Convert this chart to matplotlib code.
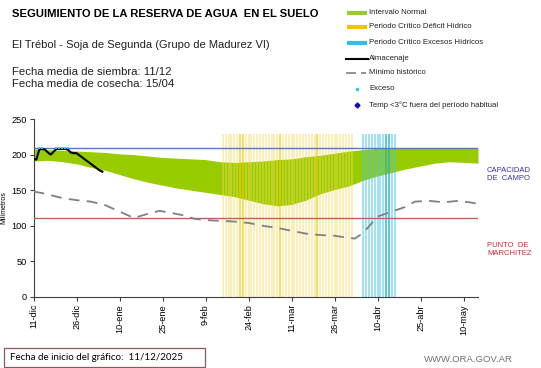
import matplotlib
matplotlib.use('Agg')
import matplotlib.pyplot as plt
from matplotlib.lines import Line2D
from matplotlib.patches import Rectangle

plt.rcParams['font.family'] = ['Liberation Sans', 'DejaVu Sans']

# days counted from 11-dic
tick_days = [0, 15, 30, 45, 60, 75, 90, 105, 120, 135, 150]
tick_labels = ['11-dic', '26-dic', '10-ene', '25-ene', '9-feb', '24-feb',
               '11-mar', '26-mar', '10-abr', '25-abr', '10-may']

band_days = [0, 5, 10, 15, 20, 25, 30, 35, 40, 45, 50, 55, 60, 65, 70, 75,
             80, 85, 90, 95, 100, 105, 110, 115, 120, 125, 130, 135, 140,
             145, 150, 155]
band_upper = [208, 207, 206, 205, 204, 203, 201, 200, 198, 196, 195, 194,
              193, 190, 189, 190, 191, 193, 194, 197, 199, 202, 205, 207,
              209, 209, 209, 209, 209, 209, 209, 209]
band_lower = [191, 192, 190, 187, 182, 178, 172, 166, 161, 157, 153, 150,
              147, 144, 141, 136, 131, 128, 130, 136, 145, 151, 156, 164,
              170, 175, 180, 184, 188, 190, 189, 188]

min_days = [0, 3, 5, 10, 15, 20, 25, 30, 35, 40, 44, 48, 52, 56, 60, 65, 70,
            75, 80, 85, 90, 95, 100, 105, 110, 112, 115, 118, 120, 125, 130,
            133, 138, 143, 148, 152, 155]
min_hist = [148, 146, 144, 139, 136, 134, 129, 120, 111, 117, 121, 118, 115,
            110, 108, 107, 106, 104, 100, 97, 93, 89, 87, 86, 83, 82, 90, 104,
            113, 120, 127, 134, 135, 133, 135, 133, 131]

alm_days = [0, 1, 2, 3, 4, 5, 6, 7, 8, 9, 10, 11, 12, 13, 14, 15, 16, 17, 18,
            19, 20, 21, 22, 23, 24]
alm_vals = [194, 193, 207, 208, 207, 203, 200, 204, 208, 208, 208, 208, 207,
            203, 202, 202, 199, 196, 193, 190, 187, 184, 181, 178, 176]

exceso_days = [2, 3, 8, 9, 10, 11, 12]
exceso_vals = [209, 209, 209, 209, 209, 209, 209]

deficit_start, deficit_end = 66, 111
deficit_strong = [72, 73, 86, 99]
excesos_start, excesos_end = 115, 126
excesos_strong = [123, 124]
period_top = 229

capacidad = 209
marchitez = 111

W, H = 541, 368


def fx(x):
    return x / W


def fy(y):
    return 1 - y / H


fig = plt.figure(figsize=(W / 100, H / 100), dpi=100)
ax = fig.add_axes([fx(33.5), fy(297), (478 - 33.5) / W, (297 - 119) / H])

ax.fill_between(band_days, band_lower, band_upper, color='#99CC00', lw=0, zorder=1)

for d in range(deficit_start, deficit_end + 1):
    if d in deficit_strong:
        ax.vlines(d, 0, period_top, color='#F2C800', lw=1.2, alpha=0.75, zorder=2)
    else:
        ax.vlines(d, 0, period_top, color='#F6D858', lw=1.1, alpha=0.55, zorder=2)

for d in range(excesos_start, excesos_end + 1):
    if d in excesos_strong:
        ax.vlines(d, 0, period_top, color='#20B0D8', lw=1.2, alpha=0.85, zorder=2)
    else:
        ax.vlines(d, 0, period_top, color='#48C4EA', lw=1.1, alpha=0.65, zorder=2)

ax.axhline(capacidad, color='#5A78C0', lw=1.0, zorder=3)
ax.axhline(marchitez, color='#C06060', lw=1.0, zorder=3)

ax.plot(min_days, min_hist, color='#808080', lw=1.3, dashes=(6, 4), zorder=4)
ax.plot(alm_days, alm_vals, color='black', lw=1.5, zorder=5)
ax.plot(exceso_days, exceso_vals, ls='none', marker='s', ms=1.6, mew=0,
        color='#33CCEE', zorder=6)

ax.set_xlim(0, 155)
ax.set_ylim(0, 250)
ax.set_xticks(tick_days)
ax.set_xticklabels(tick_labels, rotation=90)
ax.set_yticks([0, 50, 100, 150, 200, 250])
ax.tick_params(labelsize=6.6, length=3, width=0.8, color='#404040', pad=2)
for s in ['top', 'right']:
    ax.spines[s].set_visible(False)
for s in ['left', 'bottom']:
    ax.spines[s].set_color('#404040')
    ax.spines[s].set_linewidth(0.8)
ax.set_ylabel('Milímetros', fontsize=5, labelpad=1)
ax.yaxis.set_label_coords(-0.058, 0.5)

# header texts
fig.text(fx(12.5), fy(14), 'SEGUIMIENTO DE LA RESERVA DE AGUA  EN EL SUELO',
         fontsize=8.1, fontweight='bold', va='center')
fig.text(fx(12.5), fy(45), 'El Trébol - Soja de Segunda (Grupo de Madurez VI)',
         fontsize=8.05, va='center', color='#202020')
fig.text(fx(12.5), fy(72), 'Fecha media de siembra: 11/12', fontsize=8.2,
         va='center', color='#202020')
fig.text(fx(12.5), fy(84), 'Fecha media de cosecha: 15/04', fontsize=8.2,
         va='center', color='#202020')

# legend
leg_labels = ['Intervalo Normal', 'Periodo Crítico Déficit Hídrico',
              'Periodo Crítico Excesos Hídricos', 'Almacenaje',
              'Mínimo histórico', 'Exceso',
              'Temp <3°C fuera del período habitual']
leg_rows = [13, 27, 43, 59, 73, 89, 105]
for i, (lab, yy) in enumerate(zip(leg_labels, leg_rows)):
    y = fy(yy)
    if i == 0:
        fig.add_artist(Line2D([fx(347), fx(367)], [y, y], color='#99CC33', lw=3,
                              solid_capstyle='butt'))
    elif i == 1:
        fig.add_artist(Line2D([fx(347), fx(367)], [y, y], color='#F5C400', lw=3,
                              solid_capstyle='butt'))
    elif i == 2:
        fig.add_artist(Line2D([fx(347), fx(367)], [y, y], color='#2CC0EA', lw=3,
                              solid_capstyle='butt'))
    elif i == 3:
        fig.add_artist(Line2D([fx(346), fx(368)], [y, y], color='black', lw=1.5))
    elif i == 4:
        fig.add_artist(Line2D([fx(346), fx(366)], [y, y], color='#808080', lw=1.2,
                              dashes=(6, 3)))
    elif i == 5:
        fig.add_artist(Line2D([fx(356.5)], [y], color='#33CCEE', marker='s',
                              ms=2, ls='none'))
    else:
        fig.add_artist(Line2D([fx(356.5)], [y], color='#1010A0', marker='D',
                              ms=2.5, ls='none'))
    fig.text(fx(369), y, lab, fontsize=5.6, va='center', color='#202020')

# side labels
fig.text(fx(487), fy(174.5), 'CAPACIDAD\nDE  CAMPO', fontsize=5.5,
         va='center', color='#3333A0', linespacing=1.1)
fig.text(fx(487), fy(249.5), 'PUNTO  DE\nMARCHITEZ', fontsize=5.5,
         va='center', color='#C03030', linespacing=1.1)

# footer
fig.add_artist(Rectangle((fx(4), fy(367)), (205 - 4) / W, (367 - 348) / H,
                         transform=fig.transFigure, facecolor='white',
                         edgecolor='#8B5A5A', lw=0.9))
fig.text(fx(10), fy(357.5), 'Fecha de inicio del gráfico:  11/12/2025',
         fontsize=7, va='center', family=['Lato', 'DejaVu Sans'])
fig.text(fx(424), fy(359), 'WWW.ORA.GOV.AR', fontsize=6.8, va='center',
         color='#707070')

fig.savefig('out.png', dpi=100)
